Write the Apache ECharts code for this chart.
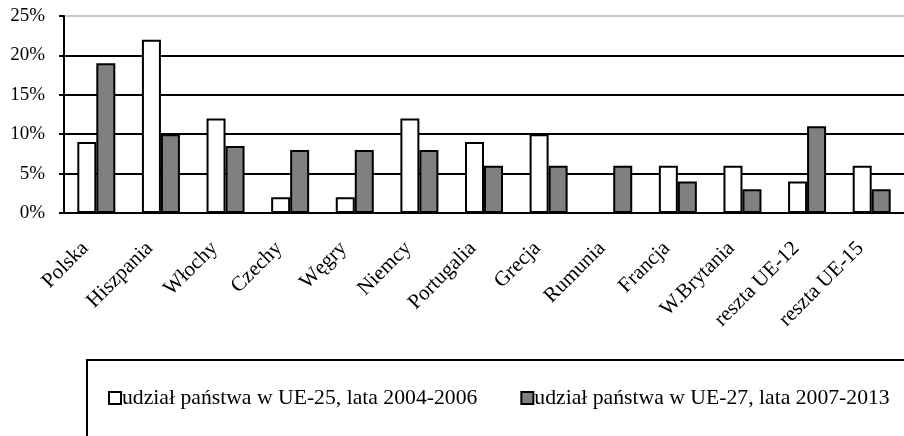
<!DOCTYPE html>
<html lang="pl">
<head>
    <meta charset="UTF-8">
    <title>Udział państw</title>
    <script src="https://cdn.jsdelivr.net/npm/echarts@6/dist/echarts.min.js"></script>
    <style>
        html, body { margin: 0; padding: 0; background: #fff; }
        #main { width: 904px; height: 436px; }
    </style>
</head>
<body>
<div id="main"></div>
<script>
    // dane z wykresu
    var kraje = ['Polska', 'Hiszpania', 'Włochy', 'Czechy', 'Węgry', 'Niemcy', 'Portugalia',
        'Grecja', 'Rumunia', 'Francja', 'W.Brytania', 'reszta UE-12', 'reszta UE-15'];
    var udzial2004 = [9, 22, 12, 2, 2, 12, 9, 10, 0, 6, 6, 4, 6];
    var udzial2007 = [19, 10, 8.5, 8, 8, 8, 6, 6, 6, 4, 3, 11, 3];
    var nazwy = ['udział państwa w UE-25, lata 2004-2006', 'udział państwa w UE-27, lata 2007-2013'];

    var font = '"Liberation Serif", "Times New Roman", serif';
    var myChart = echarts.init(document.getElementById('main'));

    var option = {
        animation: false,
        grid: { left: 64, top: 16, width: 843.6, height: 197 },
        legend: {
            left: 87,
            top: 360,
            width: 880,
            icon: 'rect',
            padding: [27, 60, 60, 21],
            borderColor: '#000',
            borderWidth: 2,
            itemWidth: 12,
            itemHeight: 12,
            itemGap: 43,
            textStyle: { fontFamily: font, fontSize: 21.7, color: '#000', padding: [0, 0, 0, -4] },
            data: nazwy
        },
        xAxis: {
            type: 'category',
            data: kraje,
            axisLine: { lineStyle: { color: '#000', width: 2 } },
            axisTick: { length: 6, lineStyle: { color: '#000', width: 2 } },
            axisLabel: {
                rotate: 45, margin: 21, interval: 0,
                fontFamily: font, fontSize: 21, color: '#000',
                // twarde spacje przesuwają etykietę w lewo-dół
                formatter: function (v) { return v + '\u00a0\u00a0\u00a0'; }
            }
        },
        yAxis: {
            type: 'value',
            min: 0,
            max: 25,
            interval: 5,
            axisLine: { show: true, lineStyle: { color: '#000', width: 2 } },
            axisTick: { show: true, length: 5, lineStyle: { color: '#000', width: 2 } },
            axisLabel: { formatter: '{value}%', margin: 19, fontFamily: font, fontSize: 19, color: '#000' },
            splitLine: { lineStyle: { color: ['#000', '#000', '#000', '#000', '#000', '#c8c8c8'], width: 2 } }
        },
        series: [
            {
                name: nazwy[0],
                type: 'bar',
                data: udzial2004,
                barWidth: 19,
                barGap: '0%',
                itemStyle: { color: '#fff', borderColor: '#000', borderWidth: 2 }
            },
            {
                name: nazwy[1],
                type: 'bar',
                data: udzial2007,
                barWidth: 19,
                itemStyle: { color: '#808080', borderColor: '#000', borderWidth: 2 }
            }
        ]
    };
    myChart.setOption(option);
</script>
</body>
</html>
